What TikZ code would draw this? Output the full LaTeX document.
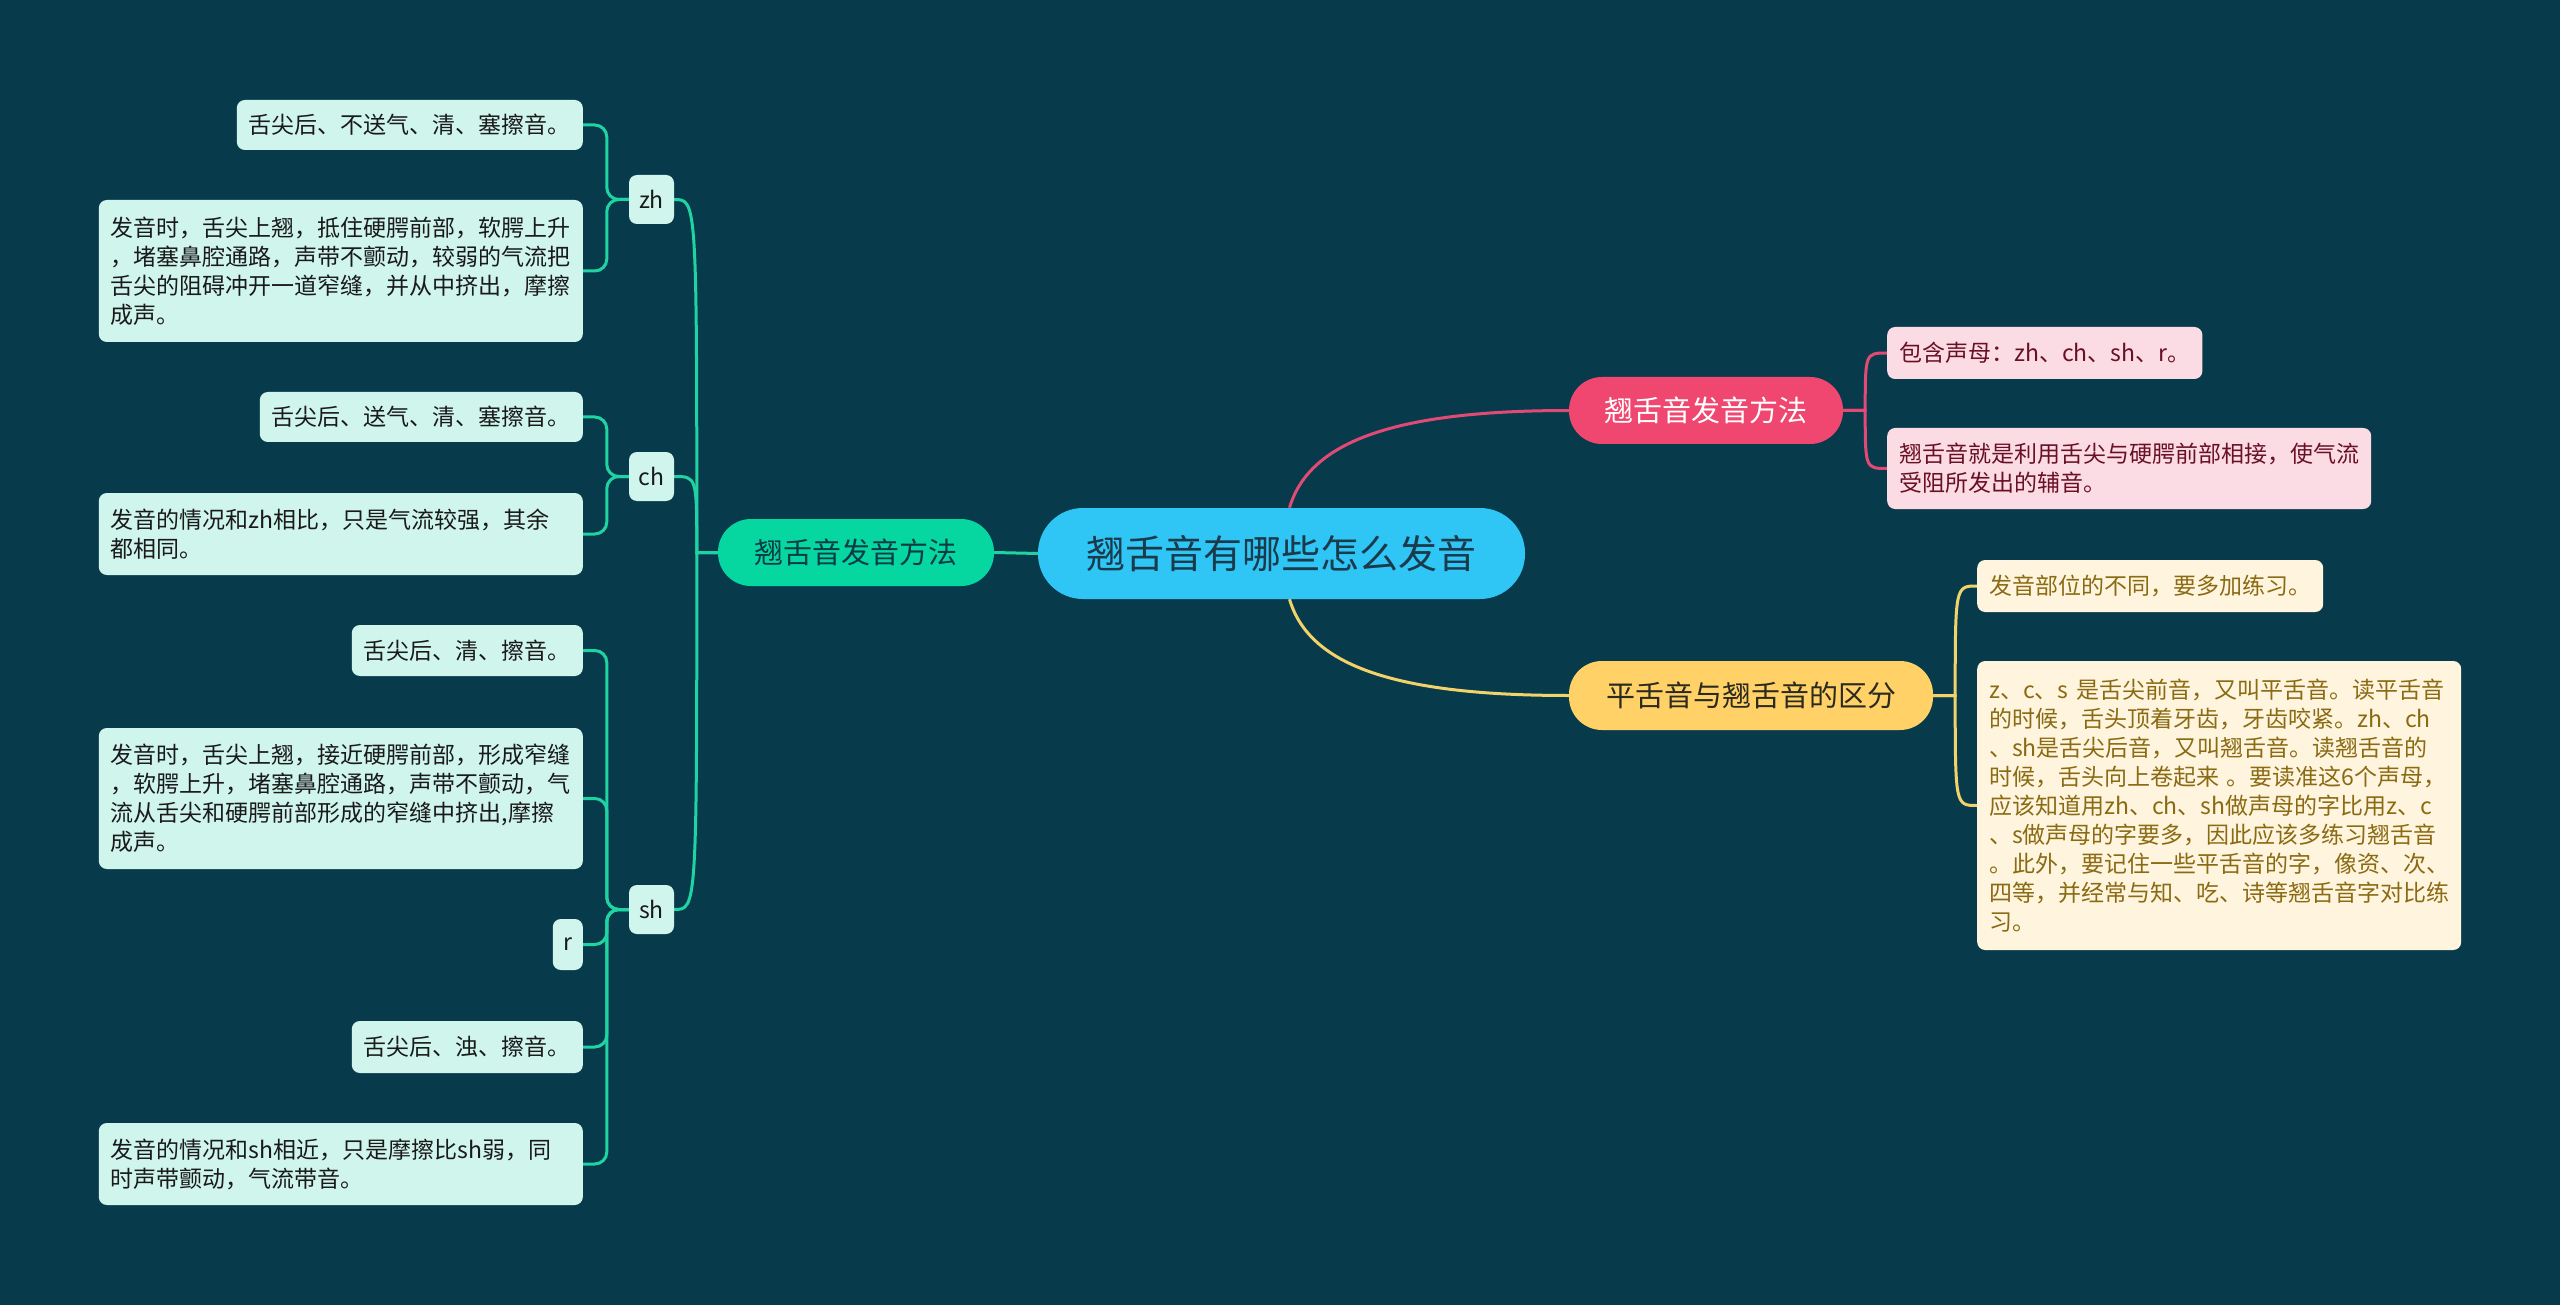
\documentclass[tikz,border=0pt]{standalone}
\usepackage{fontspec}
\setmainfont{Noto Sans CJK SC}
\usetikzlibrary{calc,backgrounds}
\definecolor{bg}{HTML}{073B4C}
\definecolor{cblue}{HTML}{2FC6F6}
\definecolor{ctext}{HTML}{1B3A4B}
\definecolor{gfill}{HTML}{06D6A0}
\definecolor{gtext}{HTML}{0B3B45}
\definecolor{gleaf}{HTML}{D0F5EC}
\definecolor{gltext}{HTML}{1A1A1A}
\definecolor{gcol}{HTML}{20D3A2}
\definecolor{pfill}{HTML}{EF476F}
\definecolor{pleaf}{HTML}{FCDCE4}
\definecolor{ptext}{HTML}{6A1026}
\definecolor{pcol}{HTML}{E04A75}
\definecolor{yfill}{HTML}{FFD166}
\definecolor{yleaf}{HTML}{FFF5DE}
\definecolor{ytext}{HTML}{8A6A12}
\definecolor{ydark}{HTML}{2B2A1E}
\definecolor{ycol}{HTML}{F2D36B}
\tikzset{
  rootbox/.style={fill=cblue, text=ctext, rounded corners=45pt, minimum width=487pt,
    minimum height=91pt, inner sep=0pt, font=\fontsize{39}{47}\selectfont},
  lonebox/.style={rounded corners=33pt, minimum height=67pt, inner sep=0pt,
    font=\fontsize{29}{35}\selectfont},
  leafbox/.style={rounded corners=8pt, inner xsep=12pt, inner ysep=8pt, align=left,
    font=\fontsize{23}{29}\selectfont},
  multi/.style={text width=460pt, inner xsep=12pt},
  gleafbox/.style={leafbox, fill=gleaf, text=gltext},
  pleafbox/.style={leafbox, fill=pleaf, text=ptext},
  yleafbox/.style={leafbox, fill=yleaf, text=ytext},
  gsmall/.style={gleafbox, align=center, minimum width=45pt, minimum height=49pt, inner xsep=4pt},
  gline/.style={draw=gcol, line width=3pt},
  pline/.style={draw=pcol, line width=3pt},
  yline/.style={draw=ycol, line width=3pt},
}
\begin{document}
\begin{tikzpicture}[x=1pt,y=-1pt]
\useasboundingbox (0,0) rectangle (2560,1305);

% main nodes
\node[rootbox] (root) at (1281.5,553.5) {翘舌音有哪些怎么发音};
\node[lonebox, fill=gfill, text=gtext, minimum width=276pt] (gL) at (856,552.5) {翘舌音发音方法};
\node[lonebox, fill=pfill, text=white, minimum width=274pt] (pL) at (1706,410.5) {翘舌音发音方法};
\node[lonebox, fill=yfill, text=ydark, minimum width=364pt, minimum height=69pt] (yL) at (1751,695.5) {平舌音与翘舌音的区分};

% left second level
\node[gsmall] (zh) at (651.5,199.5) {zh};
\node[gsmall] (ch) at (651.5,476.5) {ch};
\node[gsmall] (sh) at (651.5,909.5) {sh};

% left leaves
\node[gleafbox, anchor=east, minimum width=343pt, minimum height=50pt] (zh1) at (583,125) {舌尖后、不送气、清、塞擦音。};
\node[gleafbox, multi, anchor=east, minimum height=142pt] (zh2) at (583,271) {发音时，舌尖上翘，抵住硬腭前部，软腭上升\\，堵塞鼻腔通路，声带不颤动，较弱的气流把\\舌尖的阻碍冲开一道窄缝，并从中挤出，摩擦\\成声。};
\node[gleafbox, anchor=east, minimum width=322pt, minimum height=50pt] (ch1) at (583,417) {舌尖后、送气、清、塞擦音。};
\node[gleafbox, multi, anchor=east, minimum height=82pt] (ch2) at (583,534) {发音的情况和zh相比，只是气流较强，其余\\都相同。};
\node[gleafbox, anchor=east, minimum width=229pt, minimum height=51pt] (sh1) at (583,650.5) {舌尖后、清、擦音。};
\node[gleafbox, multi, anchor=east, minimum height=141pt] (sh2) at (583,798.5) {发音时，舌尖上翘，接近硬腭前部，形成窄缝\\，软腭上升，堵塞鼻腔通路，声带不颤动，气\\流从舌尖和硬腭前部形成的窄缝中挤出,摩擦\\成声。};
\node[gleafbox, anchor=east, align=center, minimum width=30pt, minimum height=51pt, inner xsep=4pt] (sh3) at (583,944.5) {r};
\node[gleafbox, anchor=east, minimum width=229pt, minimum height=52pt] (sh4) at (583,1047) {舌尖后、浊、擦音。};
\node[gleafbox, multi, anchor=east, minimum height=82pt] (sh5) at (583,1164) {发音的情况和sh相近，只是摩擦比sh弱，同\\时声带颤动，气流带音。};

% right leaves
\node[pleafbox, anchor=west, minimum width=314pt, minimum height=52pt] (p1) at (1887,353) {包含声母：zh、ch、sh、r。};
\node[pleafbox, multi, anchor=west, minimum height=81pt] (p2) at (1887,468.5) {翘舌音就是利用舌尖与硬腭前部相接，使气流\\受阻所发出的辅音。};
\node[yleafbox, anchor=west, minimum width=345pt, minimum height=52pt] (y1) at (1977,586) {发音部位的不同，要多加练习。};
\node[yleafbox, multi, anchor=west, minimum height=289pt] (y2) at (1977,805.5) {z、c、s 是舌尖前音，又叫平舌音。读平舌音\\的时候，舌头顶着牙齿，牙齿咬紧。zh、ch\\、sh是舌尖后音，又叫翘舌音。读翘舌音的\\时候，舌头向上卷起来 。要读准这6个声母，\\应该知道用zh、ch、sh做声母的字比用z、c\\、s做声母的字要多，因此应该多练习翘舌音\\。此外，要记住一些平舌音的字，像资、次、\\四等，并经常与知、吃、诗等翘舌音字对比练\\习。};

\begin{scope}[on background layer]
\fill[bg] (0,0) rectangle (2560,1305);
% root connectors
\draw[gline] (root.west) -- (gL.east);
\draw[pline] ($(root.north)+(8,0)$) .. controls +(20,-68) and +(-170,0) .. (pL.west);
\draw[yline] ($(root.south)+(8,0)$) .. controls +(20,68) and +(-170,0) .. (yL.west);
% left level 2
\coordinate (gt) at ($(gL.west)+(-21,0)$);
\foreach \c in {zh,ch,sh}
  \draw[gline] (gL.west) -- (gt) .. controls (gt |- \c.east) .. (\c.east);
% leaves
\foreach \l in {zh1,zh2}
  \draw[gline, rounded corners=12pt] (zh.west) -- ++(-22,0) |- (\l.east);
\foreach \l in {ch1,ch2}
  \draw[gline, rounded corners=12pt] (ch.west) -- ++(-22,0) |- (\l.east);
\foreach \l in {sh1,sh2,sh3,sh4,sh5}
  \draw[gline, rounded corners=12pt] (sh.west) -- ++(-22,0) |- (\l.east);
% pink
\coordinate (pt) at ($(pL.east)+(22,0)$);
\foreach \l in {p1,p2}
  \draw[pline] (pL.east) -- (pt) .. controls (pt |- \l.west) .. (\l.west);
% yellow
\coordinate (yt) at ($(yL.east)+(22,0)$);
\foreach \l in {y1,y2}
  \draw[yline] (yL.east) -- (yt) .. controls (yt |- \l.west) .. (\l.west);
\end{scope}
\end{tikzpicture}
\end{document}
